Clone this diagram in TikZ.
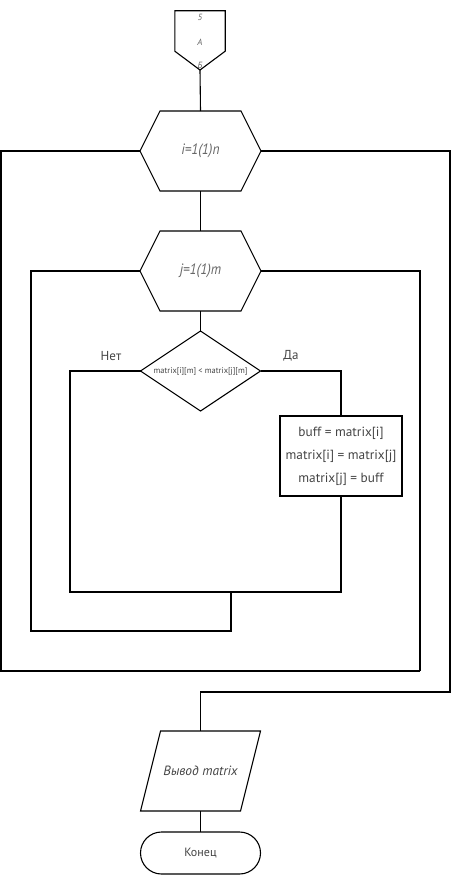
\documentclass[tikz,border=0pt]{standalone}
\usepackage{fontspec}
\setmainfont{PT Sans}
\newfontfamily\narrowfont{PT Sans}[FakeStretch=0.9]
\usetikzlibrary{shapes.geometric}
\definecolor{txt}{HTML}{444444}
\definecolor{txtl}{HTML}{666666}
\tikzset{
  base/.style={draw=black, line width=1.1pt, text=txt, inner sep=0pt, outer sep=0pt},
  loopbox/.style={text=txtl, inner sep=0pt, outer sep=0pt, rectangle,
    minimum width=81pt, minimum height=80pt,
    font=\narrowfont\fontsize{15}{15}\selectfont\itshape},
  decbox/.style={base, diamond, minimum width=120pt, minimum height=80pt,
    font=\fontsize{8.4}{8.4}\selectfont},
  actbox/.style={base, rectangle, minimum width=122pt, minimum height=80pt,
    align=center, font=\fontsize{13.3}{23}\selectfont},
  iobox/.style={text=txt, inner sep=0pt, outer sep=0pt, rectangle,
    minimum width=100pt, minimum height=80pt,
    font=\fontsize{13.4}{13.4}\selectfont\itshape},
  endbox/.style={base, rectangle, rounded corners=21pt, minimum width=120pt,
    minimum height=42pt, font=\fontsize{12}{12}\selectfont},
  lbl/.style={text=txt, inner sep=0pt, font=\fontsize{13}{13}\selectfont},
  conntxt/.style={text=txtl, inner sep=0pt, font=\fontsize{9}{9}\selectfont\itshape},
  wire/.style={draw=black, line width=1.1pt},
}
\begin{document}
\begin{tikzpicture}[x=1pt,y=-1pt]
\useasboundingbox (0,0) rectangle (453,875);
% off-page connector
\node[inner sep=0pt, minimum width=50pt, minimum height=40pt] (conn) at (200,31) {};
\coordinate (conntip) at (200,70);
\draw[wire] (conn.south west) -- (conn.north west) -- (conn.north east) -- (conn.south east) -- (conntip) -- cycle;
\node[conntxt] (c1) at (200,17) {5};
\node[conntxt] (c2) at (200,42) {A};
\node[conntxt] (c3) at (200,65) {Б};
% loop hexagons
\node[loopbox] (h1) at (200.5,151) {i=1(1)n};
\coordinate (h1l) at ([xshift=-20pt]h1.west);
\coordinate (h1r) at ([xshift=20pt]h1.east);
\draw[wire] (h1l) -- (h1.north west) -- (h1.north east) -- (h1r) -- (h1.south east) -- (h1.south west) -- cycle;
\node[loopbox] (h2) at (200.5,271) {j=1(1)m};
\coordinate (h2l) at ([xshift=-20pt]h2.west);
\coordinate (h2r) at ([xshift=20pt]h2.east);
\draw[wire] (h2l) -- (h2.north west) -- (h2.north east) -- (h2r) -- (h2.south east) -- (h2.south west) -- cycle;
% blocks
\node[decbox] (dec) at (200.5,371) {\makebox[0pt]{matrix[i][m] < matrix[j][m]}};
\node[actbox] (box) at (341,456) {buff = matrix[i]\\matrix[i] = matrix[j]\\matrix[j] = buff};
\node[iobox] (par) at (200.5,771) {Вывод matrix};
\draw[wire] ([xshift=-10pt]par.south west) -- ([xshift=10pt]par.north west) -- ([xshift=10pt]par.north east) -- ([xshift=-10pt]par.south east) -- cycle;
\node[endbox] (term) at (200.5,853) {Конец};
\node[lbl] (no) at (111,356) {Нет};
\node[lbl] (yes) at (291,356) {Да};
% helper coordinates
\coordinate (j1) at (70,592);
\coordinate (j2) at (231,592);
\coordinate (r2) at (31,631);
\coordinate (e2) at (420,671);
\coordinate (r1) at (1,671);
\coordinate (e1) at (450,692);
% connectors
\draw[wire] (conntip) -- (h1.north);
\draw[wire] (h1.south) -- (h2.north);
\draw[wire] (h2.south) -- (dec.north);
\draw[wire] (dec.east) -| (box.north);
\draw[wire] (dec.west) -| (j1) -| (box.south);
\draw[wire] (j2) |- (r2) |- (h2l);
\draw[wire] (h2r) -| (e2);
\draw[wire] (e2) -- (r1) |- (h1l);
\draw[wire] (h1r) -| (e1) -| (par.north);
\draw[wire] (par.south) -- (term.north);
\end{tikzpicture}
\end{document}
